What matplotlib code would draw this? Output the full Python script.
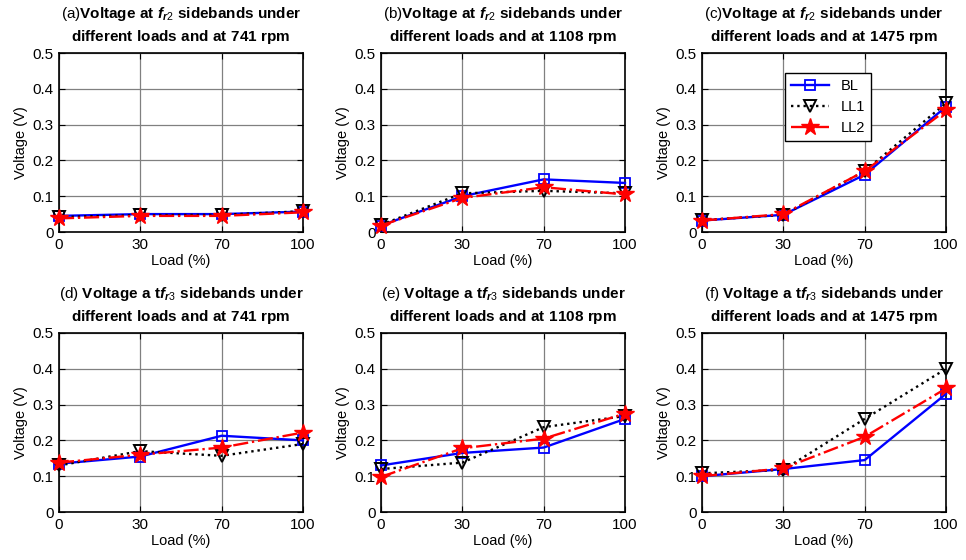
import matplotlib
matplotlib.use("Agg")
import matplotlib.pyplot as plt
import numpy as np

plt.rcParams['font.family'] = ['Liberation Sans', 'DejaVu Sans']
plt.rcParams['mathtext.fontset'] = 'custom'
plt.rcParams['mathtext.rm'] = 'Liberation Sans'
plt.rcParams['mathtext.bf'] = 'Liberation Sans:bold'
plt.rcParams['mathtext.it'] = 'Liberation Sans:italic:bold'

loads = ["0", "30", "70", "100"]
series_names = ["BL", "LL1", "LL2"]

titles = [
    r"(a)$\mathbf{Voltage\ at}\ \mathit{f}_{\mathit{r2}}\ \mathbf{sidebands\ under}$" + "\n" + r"$\mathbf{different\ loads\ and\ at\ 741\ rpm}$",
    r"(b)$\mathbf{Voltage\ at}\ \mathit{f}_{\mathit{r2}}\ \mathbf{sidebands\ under}$" + "\n" + r"$\mathbf{different\ loads\ and\ at\ 1108\ rpm}$",
    r"(c)$\mathbf{Voltage\ at}\ \mathit{f}_{\mathit{r2}}\ \mathbf{sidebands\ under}$" + "\n" + r"$\mathbf{different\ loads\ and\ at\ 1475\ rpm}$",
    r"(d) $\mathbf{Voltage\ a\ t}\mathit{f}_{\mathit{r3}}\ \mathbf{sidebands\ under}$" + "\n" + r"$\mathbf{different\ loads\ and\ at\ 741\ rpm}$",
    r"(e) $\mathbf{Voltage\ a\ t}\mathit{f}_{\mathit{r3}}\ \mathbf{sidebands\ under}$" + "\n" + r"$\mathbf{different\ loads\ and\ at\ 1108\ rpm}$",
    r"(f) $\mathbf{Voltage\ a\ t}\mathit{f}_{\mathit{r3}}\ \mathbf{sidebands\ under}$" + "\n" + r"$\mathbf{different\ loads\ and\ at\ 1475\ rpm}$",
]

bl_a = [0.045, 0.050, 0.050, 0.057]
ll1_a = [0.042, 0.047, 0.048, 0.058]
ll2_a = [0.038, 0.045, 0.045, 0.055]

bl_b = [0.018, 0.100, 0.147, 0.137]
ll1_b = [0.020, 0.108, 0.115, 0.108]
ll2_b = [0.018, 0.095, 0.125, 0.105]

bl_c = [0.032, 0.048, 0.160, 0.350]
ll1_c = [0.033, 0.048, 0.170, 0.360]
ll2_c = [0.032, 0.050, 0.170, 0.340]

bl_d = [0.135, 0.155, 0.213, 0.200]
ll1_d = [0.130, 0.170, 0.157, 0.190]
ll2_d = [0.138, 0.160, 0.180, 0.222]

bl_e = [0.130, 0.165, 0.180, 0.260]
ll1_e = [0.120, 0.138, 0.237, 0.268]
ll2_e = [0.098, 0.178, 0.205, 0.275]

bl_f = [0.100, 0.120, 0.145, 0.330]
ll1_f = [0.108, 0.118, 0.260, 0.400]
ll2_f = [0.100, 0.122, 0.210, 0.345]

data = [
    (bl_a, ll1_a, ll2_a), (bl_b, ll1_b, ll2_b), (bl_c, ll1_c, ll2_c),
    (bl_d, ll1_d, ll2_d), (bl_e, ll1_e, ll2_e), (bl_f, ll1_f, ll2_f),
]

styles = [
    dict(color='#0000ff', linestyle='-', marker='s', markersize=7.5, markerfacecolor='none',
         markeredgecolor='#0000ff', markeredgewidth=1.3, linewidth=1.7),
    dict(color='black', linestyle=':', marker='v', markersize=8.5, markerfacecolor='none',
         markeredgecolor='black', markeredgewidth=1.4, linewidth=1.7),
    dict(color='#ff0000', linestyle='-.', marker='*', markersize=13, markerfacecolor='#ff0000',
         markeredgecolor='#ff0000', linewidth=1.7),
]

fig = plt.figure(figsize=(9.66, 5.6), dpi=100)
W, H = 966, 560
lefts = [59, 381, 702]
tops = [53, 333]
aw, ah = 244, 179

x = np.arange(len(loads))
for i in range(6):
    r, c = divmod(i, 3)
    ax = fig.add_axes([lefts[c] / W, 1 - (tops[r] + ah) / H, aw / W, ah / H])
    for vals, name, st in zip(data[i], series_names, styles):
        ax.plot(x, vals, label=name, clip_on=False, zorder=3, **st)
    ax.set_xlim(0, 3)
    ax.set_ylim(0, 0.5)
    ax.set_xticks(x)
    ax.set_xticklabels(loads)
    ax.set_yticks([0, 0.1, 0.2, 0.3, 0.4, 0.5])
    ax.set_yticklabels(["0", "0.1", "0.2", "0.3", "0.4", "0.5"])
    ax.tick_params(direction='in', top=True, right=True, labelsize=11, length=4, pad=4)
    ax.grid(True, color='#808080', linewidth=0.9)
    ax.set_axisbelow(True)
    for sp in ax.spines.values():
        sp.set_linewidth(1.2)
    ax.set_xlabel("Load (%)", fontsize=10.5, labelpad=2)
    ax.set_ylabel("Voltage (V)", fontsize=10.5, labelpad=3)
    ax.set_title(titles[i], fontsize=11, pad=9, linespacing=1.35)
    if i == 2:
        leg = ax.legend(loc='upper left', bbox_to_anchor=(0.31, 0.93), fontsize=10.5,
                        fancybox=False, edgecolor='black', framealpha=1,
                        handlelength=2.6, borderpad=0.4, labelspacing=0.5)
        leg.get_frame().set_linewidth(1.0)

fig.savefig("out.png", dpi=100)
